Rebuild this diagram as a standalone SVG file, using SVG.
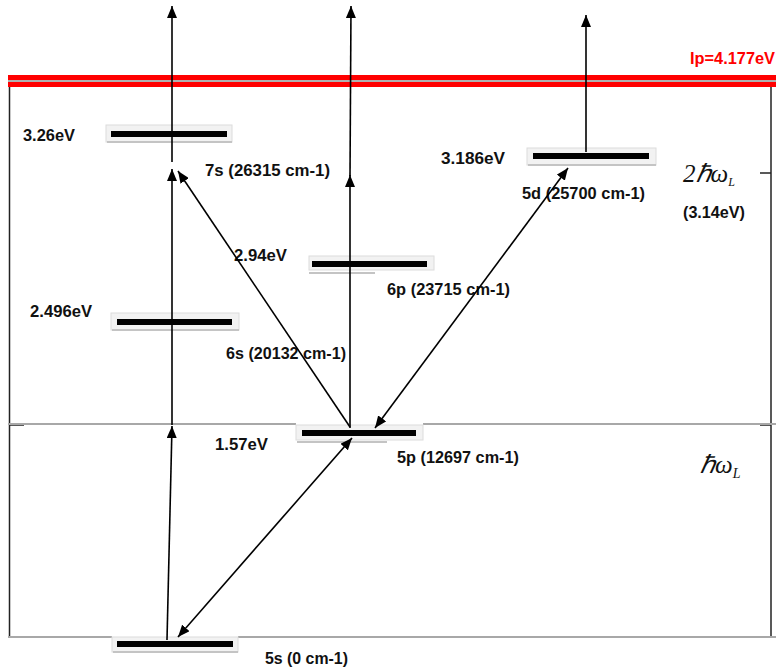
<svg xmlns="http://www.w3.org/2000/svg" width="777" height="671" viewBox="0 0 777 671">
<style>
.lbl{font-family:"Liberation Sans",Arial,sans-serif;font-weight:bold;font-size:17px;fill:#111}
.ip{font-family:"Liberation Sans",Arial,sans-serif;font-weight:bold;font-size:17px;fill:#ff0000}
.math{font-family:"Liberation Serif","Times New Roman",serif;font-style:italic;font-size:25px;fill:#111}
.box{fill:#f2f2f2;stroke:#dcdcdc;stroke-width:1}
.sh{stroke:#c4c4c4;stroke-width:2}
.bar{fill:#000}
.ln{stroke:#000;stroke-width:1.6;fill:none}
.gray{stroke:#a8a8a8;stroke-width:2}
.frame{stroke:#222;stroke-width:1.5}
</style>
<defs>
<marker id="ahb" viewBox="0 0 12 10" refX="12" refY="5" markerWidth="12" markerHeight="10" markerUnits="userSpaceOnUse" orient="auto-start-reverse">
<path d="M0,0 L12,5 L0,10 z" fill="#000"/>
</marker>
</defs>
<rect width="777" height="671" fill="#fff"/>

<g id="frame">
<rect x="8" y="75" width="768" height="5" fill="#ff0000"/>
<rect x="8" y="80" width="768" height="2" fill="#b0b0b0"/>
<rect x="8" y="82" width="768" height="5" fill="#ff0000"/>
<line class="frame" x1="9.5" y1="87" x2="9.5" y2="638"/>
<line class="frame" x1="771" y1="87" x2="771" y2="636"/>
<line class="frame" x1="760" y1="173" x2="771" y2="173"/>
<line class="frame" x1="760" y1="425" x2="771" y2="425"/>
<line class="frame" x1="9" y1="425" x2="24" y2="425"/>
<line class="gray" x1="8" y1="424" x2="296" y2="424"/>
<line class="gray" x1="423" y1="424" x2="776" y2="424"/>
<line class="gray" x1="8" y1="637" x2="112" y2="637"/>
<line class="gray" x1="238" y1="637" x2="776" y2="637"/>
<text class="ip" x="690" y="64" textLength="85" lengthAdjust="spacingAndGlyphs">Ip=4.177eV</text>
<text class="math" x="683" y="182">2ℏω<tspan font-size="12" dy="4">L</tspan></text>
<text class="lbl" x="683" y="218" textLength="62" lengthAdjust="spacingAndGlyphs">(3.14eV)</text>
<text class="math" x="700" y="473">ℏω<tspan font-size="14" dy="5">L</tspan></text>
</g>

<g id="level-7s">
<rect class="box" x="106" y="125" width="126" height="17"/>
<line class="sh" x1="107" y1="142" x2="232" y2="142"/>
<rect class="bar" x="111" y="131" width="116" height="6"/>
<text class="lbl" x="23" y="141" textLength="52" lengthAdjust="spacingAndGlyphs">3.26eV</text>
<text class="lbl" x="205" y="176" textLength="125" lengthAdjust="spacingAndGlyphs">7s (26315 cm-1)</text>
</g>

<g id="level-5d">
<rect class="box" x="527" y="148" width="129" height="17"/>
<line class="sh" x1="528" y1="165" x2="656" y2="165"/>
<rect class="bar" x="533" y="153" width="116" height="6"/>
<text class="lbl" x="441" y="164" textLength="64" lengthAdjust="spacingAndGlyphs">3.186eV</text>
<text class="lbl" x="522" y="199" textLength="123" lengthAdjust="spacingAndGlyphs">5d (25700 cm-1)</text>
</g>

<g id="level-6p">
<rect class="box" x="309" y="256" width="125" height="14"/>
<line class="sh" x1="309" y1="273" x2="375" y2="273"/>
<rect class="bar" x="312" y="261" width="115" height="6"/>
<text class="lbl" x="234" y="261" textLength="53" lengthAdjust="spacingAndGlyphs">2.94eV</text>
<text class="lbl" x="387" y="295" textLength="123" lengthAdjust="spacingAndGlyphs">6p (23715 cm-1)</text>
</g>

<g id="level-6s">
<rect class="box" x="111" y="313" width="128" height="17"/>
<line class="sh" x1="112" y1="330" x2="239" y2="330"/>
<rect class="bar" x="117" y="319" width="115" height="6"/>
<text class="lbl" x="30" y="317" textLength="62" lengthAdjust="spacingAndGlyphs">2.496eV</text>
<text class="lbl" x="226" y="359" textLength="120" lengthAdjust="spacingAndGlyphs">6s (20132 cm-1)</text>
</g>

<g id="level-5p">
<rect class="box" x="296" y="425" width="127" height="15"/>
<line class="sh" x1="297" y1="442" x2="387" y2="442"/>
<rect class="bar" x="302" y="430" width="114" height="6"/>
<text class="lbl" x="215" y="450" textLength="53" lengthAdjust="spacingAndGlyphs">1.57eV</text>
<text class="lbl" x="397" y="463" textLength="122" lengthAdjust="spacingAndGlyphs">5p (12697 cm-1)</text>
</g>

<g id="level-5s">
<rect class="box" x="112" y="637" width="126" height="15"/>
<line class="sh" x1="113" y1="652" x2="238" y2="652"/>
<rect class="bar" x="117" y="641" width="116" height="6"/>
<text class="lbl" x="265" y="664" textLength="83" lengthAdjust="spacingAndGlyphs">5s (0 cm-1)</text>
</g>

<g id="connectors">
<line class="ln" x1="167" y1="640" x2="172" y2="426" marker-end="url(#ahb)"/>
<line class="ln" x1="172" y1="425" x2="172" y2="169" marker-end="url(#ahb)"/>
<line class="ln" x1="172" y1="162" x2="172" y2="6" marker-end="url(#ahb)"/>
<line class="ln" x1="350" y1="428" x2="350" y2="175" marker-end="url(#ahb)"/>
<line class="ln" x1="350" y1="176" x2="351" y2="6" marker-end="url(#ahb)"/>
<line class="ln" x1="586" y1="152" x2="586" y2="15" marker-end="url(#ahb)"/>
<line class="ln" x1="350" y1="427" x2="178" y2="171" marker-end="url(#ahb)"/>
<line class="ln" x1="375" y1="428" x2="568" y2="168" marker-start="url(#ahb)" marker-end="url(#ahb)"/>
<line class="ln" x1="178" y1="637" x2="352" y2="438" marker-start="url(#ahb)" marker-end="url(#ahb)"/>
</g>
</svg>
